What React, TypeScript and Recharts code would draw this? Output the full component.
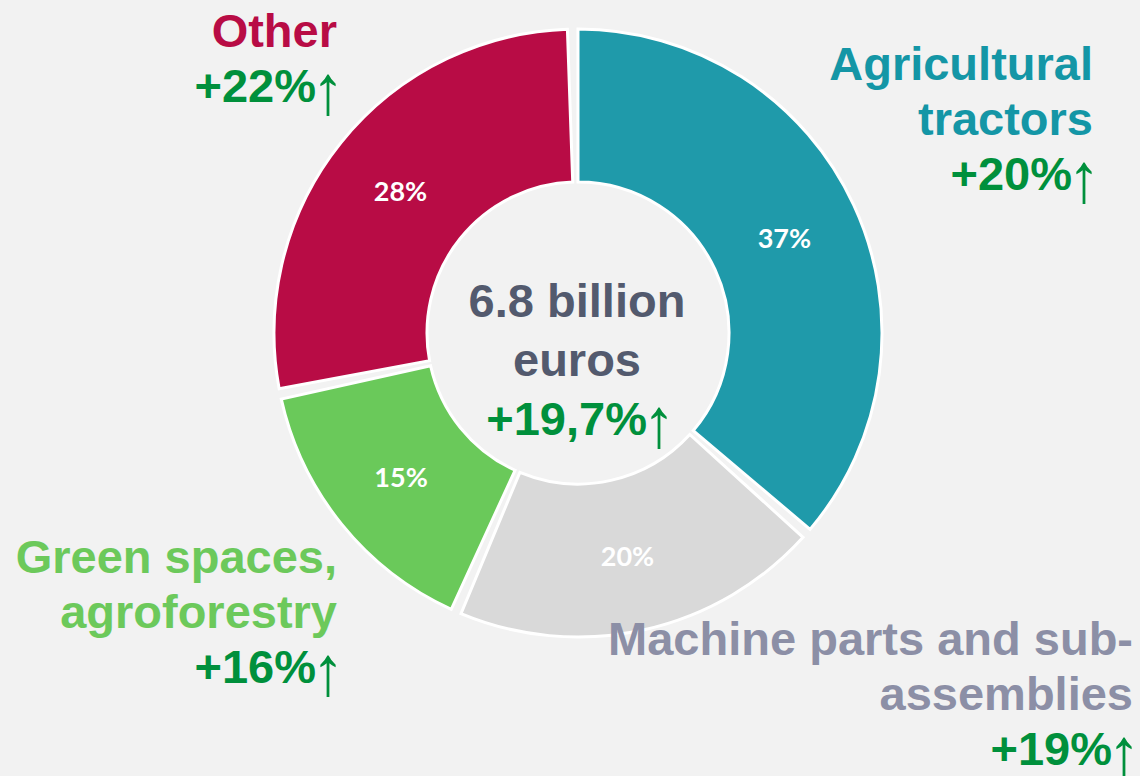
import React from "react";
import { PieChart, Pie, Cell } from "recharts";

const categories = [
  "Agricultural tractors",
  "Machine parts and sub-assemblies",
  "Green spaces, agroforestry",
  "Other",
];
const nameLines = [
  ["Agricultural", "tractors"],
  ["Machine parts and sub-", "assemblies"],
  ["Green spaces,", "agroforestry"],
  ["Other"],
];
const shares = [37, 20, 15, 28];
const growth = ["+20%", "+19%", "+16%", "+22%"];
const centerLines = ["6.8 billion", "euros"];
const totalGrowth = "+19,7%";

const sliceColors = ["#1f9aaa", "#d9d9d9", "#6ac95a", "#b80c45"];
const nameColors = ["#1496a6", "#8c8fa6", "#6cc95b", "#b80c45"];
// right edge + first baseline of each outer label block
const namePos = [
  { x: 1093, y: 80 },
  { x: 1133, y: 655 },
  { x: 337, y: 573 },
  { x: 337, y: 47 },
];

const UP = "#00903c";
const FONT = "'Liberation Sans', Arial, sans-serif";
const LINE = 55;
const ARROW_W = 21;

const data = categories.map((name, i) => ({ name, value: shares[i] }));

const RAD = Math.PI / 180;

// growth figure followed by a thin, tall arrow like the original slide
function Growth({ x, y, text }: { x: number; y: number; text: string }) {
  return (
    <g>
      <text x={x - ARROW_W} y={y} fill={UP} textAnchor="end" fontFamily={FONT} fontWeight={700} fontSize={47}>
        {text}
      </text>
      <text
        transform={`translate(${x - 9}, ${y + 12}) scale(1.25, 1.35)`}
        fill={UP}
        textAnchor="middle"
        fontFamily={FONT}
        fontWeight={400}
        fontSize={52}
      >
        ↑
      </text>
    </g>
  );
}

function renderLabel(props: any) {
  const { cx, cy, midAngle, innerRadius, outerRadius, index } = props;
  const r = (innerRadius + outerRadius) / 2;
  const x = cx + r * Math.cos(-midAngle * RAD);
  const y = cy + r * Math.sin(-midAngle * RAD);
  const pos = namePos[index];
  const lines = nameLines[index];
  return (
    <g>
      <text
        x={x}
        y={y}
        fill="#fff"
        textAnchor="middle"
        dominantBaseline="central"
        fontFamily="Lato, 'Open Sans', sans-serif"
        fontWeight={700}
        fontSize={27}
      >
        {shares[index]}%
      </text>
      <g fontFamily={FONT} fontWeight={700} fontSize={47} textAnchor="end">
        {lines.map((l, k) => (
          <text key={k} x={pos.x} y={pos.y + k * LINE} fill={nameColors[index]}>
            {l}
          </text>
        ))}
      </g>
      <Growth x={pos.x} y={pos.y + lines.length * LINE} text={growth[index]} />
    </g>
  );
}

export default function App() {
  return (
    <div style={{ width: 1140, height: 776, background: "#f2f2f2" }}>
      <style>{`body{margin:0;background:#f2f2f2}`}</style>
      <PieChart width={1140} height={776} margin={{ top: 0, right: 0, bottom: 0, left: 0 }}>
        <Pie
          data={data}
          dataKey="value"
          nameKey="name"
          cx={578}
          cy={333}
          innerRadius={151}
          outerRadius={304}
          startAngle={90}
          endAngle={-270}
          paddingAngle={2}
          stroke="#ffffff"
          strokeWidth={3}
          label={renderLabel}
          labelLine={false}
          isAnimationActive={false}
        >
          {data.map((d, i) => (
            <Cell key={d.name} fill={sliceColors[i]} />
          ))}
        </Pie>
        <g fontFamily={FONT} fontWeight={700} fontSize={47} textAnchor="middle">
          {centerLines.map((l, k) => (
            <text key={k} x={577} y={317 + k * 59} fill="#535a6e">
              {l}
            </text>
          ))}
        </g>
        <Growth x={668} y={317 + 2 * 59} text={totalGrowth} />
      </PieChart>
    </div>
  );
}
